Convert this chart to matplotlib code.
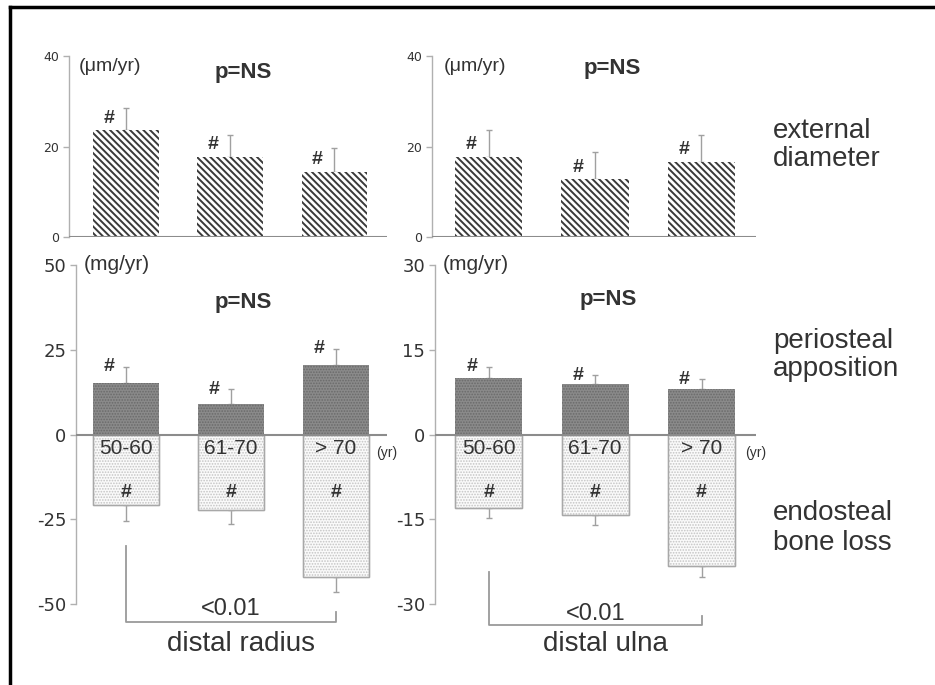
import matplotlib
matplotlib.use("Agg")
import matplotlib.pyplot as plt
from matplotlib.lines import Line2D

# ---------------- data ----------------
age_groups = ["50-60", "61-70", "> 70"]

radius_diam = [23.6, 17.7, 14.4]
radius_diam_err = [4.9, 4.8, 5.3]
ulna_diam = [17.7, 12.8, 16.6]
ulna_diam_err = [5.9, 6.0, 5.9]

radius_perio = [15.2, 8.9, 20.5]
radius_perio_err = [4.8, 4.5, 4.8]
radius_endo = [-20.8, -22.3, -42.0]
radius_endo_err = [4.8, 4.2, 4.4]

ulna_perio = [10.0, 8.9, 8.0]
ulna_perio_err = [2.0, 1.6, 1.8]
ulna_endo = [-13.0, -14.3, -23.2]
ulna_endo_err = [1.8, 1.8, 2.0]

top_ticks = [0, 20, 40]
radius_ticks = [-50, -25, 0, 25, 50]
ulna_ticks = [-30, -15, 0, 15, 30]

# ---------------- style ----------------
W, H = 935, 685
fig = plt.figure(figsize=(W / 100, H / 100), dpi=100)
fig.patch.set_facecolor("white")

MAIN = "Liberation Sans"
plt.rcParams["font.family"] = [MAIN, "DejaVu Sans"]

TXT = "#333333"
SPINE = "#b0b0b0"
BASE = "#8c8c8c"


def add_ax(left, right, top, bottom):
    return fig.add_axes([left / W, 1 - bottom / H, (right - left) / W, (bottom - top) / H])


def style_ax(ax, ticks, ylim, xlim, fsize):
    ax.set_xlim(*xlim)
    ax.set_ylim(*ylim)
    for s in ("top", "right", "bottom"):
        ax.spines[s].set_visible(False)
    ax.spines["left"].set_color(SPINE)
    ax.spines["left"].set_linewidth(1.0)
    ax.set_xticks([])
    ax.set_yticks(ticks)
    ax.set_yticklabels([str(t) for t in ticks], fontsize=fsize, family="DejaVu Sans",
                       color=TXT)
    ax.tick_params(axis="y", length=4, width=1, color=SPINE, pad=3)
    ax.axhline(0, color=BASE, lw=1.5, zorder=3)
    ax.patch.set_alpha(0)


x = [0, 1, 2]
BW = 0.63


def px2pt(p):
    return p * 0.72


def top_panel(ax, vals, errs):
    plt.rcParams["hatch.linewidth"] = 1.4
    ax.bar(x, vals, width=BW, facecolor="white", edgecolor="#3a3a3a",
           hatch="\\\\\\\\\\", linewidth=0, zorder=2)
    ax.errorbar(x, vals, yerr=[[0] * 3, errs], fmt="none", ecolor="#a0a0a0",
                elinewidth=1, capsize=2, capthick=1, zorder=1)
    for xi, v in zip(x, vals):
        ax.annotate("#", (xi, v), xytext=(px2pt(-17), px2pt(12)), textcoords="offset points",
                    ha="center", va="center", fontsize=14, fontweight="bold", color=TXT)


def bottom_panel(ax, pv, pe, ev, ee):
    plt.rcParams["hatch.linewidth"] = 0.8
    ax.bar(x, pv, width=BW, facecolor="#8a8a8a", edgecolor="#6a6a6a",
           hatch="......", linewidth=0, zorder=2)
    ax.bar(x, ev, width=BW, facecolor="#fafafa", edgecolor="#c4c4c4",
           hatch="......", linewidth=1, zorder=2)
    ax.bar(x, ev, width=BW, facecolor="none", edgecolor="#a8a8a8",
           linewidth=1, zorder=2)
    ax.errorbar(x, pv, yerr=[[0] * 3, pe], fmt="none", ecolor="#a0a0a0",
                elinewidth=1, capsize=2, capthick=1, zorder=1)
    ax.errorbar(x, ev, yerr=[ee, [0] * 3], fmt="none", ecolor="#a0a0a0",
                elinewidth=1, capsize=2, capthick=1, zorder=1)
    for xi, v, e in zip(x, pv, pe):
        ax.annotate("#", (xi, v + e), xytext=(px2pt(-17), px2pt(0)), textcoords="offset points",
                    ha="center", va="center", fontsize=14, fontweight="bold", color=TXT)
    for xi, g in zip(x, age_groups):
        ax.annotate(g, (xi, 0), xytext=(0, px2pt(-14)), textcoords="offset points",
                    ha="center", va="center", fontsize=15, color=TXT, zorder=5)
        ax.annotate("#", (xi, 0), xytext=(0, px2pt(-58)), textcoords="offset points",
                    ha="center", va="center", fontsize=14, fontweight="bold", color=TXT, zorder=5)
    ax.annotate("(yr)", (1.0, 0), xycoords=("axes fraction", "data"),
                xytext=(0, px2pt(-18)), textcoords="offset points",
                ha="center", va="center", fontsize=10, color=TXT)


def bracket(ax, y_top_left, y_bottom, y_top_right, ptxt_y, name, name_y):
    ax.add_line(Line2D([0, 0, 2, 2], [y_top_left, y_bottom, y_bottom, y_top_right],
                       color="#9a9a9a", lw=1.3, clip_on=False))
    ax.text(1, ptxt_y, "<0.01", ha="center", va="center", fontsize=17, color=TXT, clip_on=False)
    ax.text(1.1, name_y, name, ha="center", va="center", fontsize=20, color=TXT, clip_on=False)


# ---------------- top-left ----------------
ax1 = add_ax(69, 387, 56, 237)
style_ax(ax1, top_ticks, (0, 40), (-0.547, 2.504), 9)
top_panel(ax1, radius_diam, radius_diam_err)
ax1.text(0.03, 0.94, "(μm/yr)", transform=ax1.transAxes, ha="left", va="center",
         fontsize=14, color=TXT)
ax1.text(0.547, 0.91, "p=NS", transform=ax1.transAxes, ha="center", va="center",
         fontsize=16, fontweight="bold", color=TXT)

# ---------------- top-right ----------------
ax2 = add_ax(432, 756, 56, 237)
style_ax(ax2, top_ticks, (0, 40), (-0.531, 2.512), 9)
top_panel(ax2, ulna_diam, ulna_diam_err)
ax2.text(0.035, 0.94, "(μm/yr)", transform=ax2.transAxes, ha="left", va="center",
         fontsize=14, color=TXT)
ax2.text(0.556, 0.93, "p=NS", transform=ax2.transAxes, ha="center", va="center",
         fontsize=16, fontweight="bold", color=TXT)

# ---------------- bottom-left ----------------
ax3 = add_ax(76, 387, 265, 604)
style_ax(ax3, radius_ticks, (-50, 50), (-0.476, 2.486), 13)
bottom_panel(ax3, radius_perio, radius_perio_err, radius_endo, radius_endo_err)
ax3.text(0.025, 1.0, "(mg/yr)", transform=ax3.transAxes, ha="left", va="center",
         fontsize=15, color=TXT)
ax3.text(0.537, 0.888, "p=NS", transform=ax3.transAxes, ha="center", va="center",
         fontsize=16, fontweight="bold", color=TXT)
bracket(ax3, -33.0, -55.4, -52.4, -51.5, "distal radius", -61.9)

# ---------------- bottom-right ----------------
ax4 = add_ax(435, 756, 265, 604)
style_ax(ax4, ulna_ticks, (-30, 30), (-0.507, 2.512), 13)
bottom_panel(ax4, ulna_perio, ulna_perio_err, ulna_endo, ulna_endo_err)
ax4.text(0.025, 1.0, "(mg/yr)", transform=ax4.transAxes, ha="left", va="center",
         fontsize=15, color=TXT)
ax4.text(0.539, 0.897, "p=NS", transform=ax4.transAxes, ha="center", va="center",
         fontsize=16, fontweight="bold", color=TXT)
bracket(ax4, -24.3, -33.75, -32.1, -31.7, "distal ulna", -37.1)

# ---------------- right-hand labels ----------------
for label, yc in [("external\ndiameter", 145), ("periosteal\napposition", 355),
                  ("endosteal\nbone loss", 528)]:
    fig.text(773 / W, 1 - yc / H, label, ha="left", va="center", fontsize=20,
             color=TXT, linespacing=1.15)

# ---------------- frame (top & left edges) ----------------
fig.add_artist(Line2D([10 / W, 10 / W], [0, 1 - 7 / H], color="black", lw=2.5,
                      transform=fig.transFigure))
fig.add_artist(Line2D([10 / W, 1], [1 - 7 / H, 1 - 7 / H], color="black", lw=2.5,
                      transform=fig.transFigure))

fig.savefig("out.png", dpi=100, facecolor="white")
